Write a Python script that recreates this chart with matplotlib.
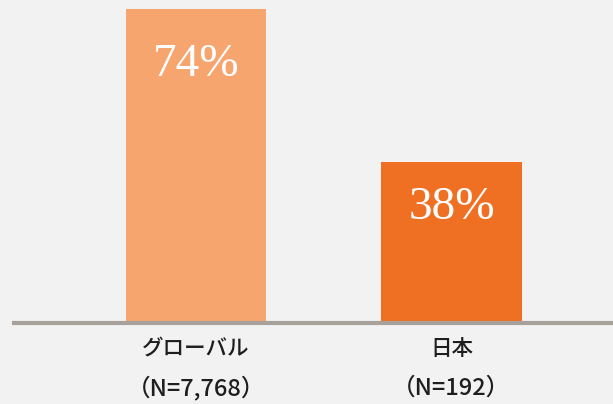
import matplotlib
matplotlib.use("Agg")
import matplotlib.pyplot as plt
from matplotlib.transforms import blended_transform_factory

categories = ["グローバル", "日本"]
sample_sizes = ["（N=7,768）", "（N=192）"]
values = [74, 38]
value_labels = ["74%", "38%"]
colors = ["#f6a56f", "#f07023"]

plt.rcParams['font.family'] = ['Noto Sans CJK JP', 'DejaVu Sans']

fig = plt.figure(figsize=(6.13, 4.04), dpi=100, facecolor="#f2f2f2")
ax = fig.add_axes([14/613, 81/404, 599/613, 323/404])
ax.set_facecolor("#f2f2f2")

x = list(range(len(categories)))
bars = ax.bar(x, values, width=0.55, color=colors, zorder=2)

ax.set_xlim(-0.712, 1.632)
ax.set_ylim(0, 76.2)

label_offsets = [-55, -46]  # px below bar top
for xi, v, lab, off in zip(x, values, value_labels, label_offsets):
    ax.annotate(lab, xy=(xi, v), xytext=(0, off * 72 / 100), textcoords="offset points",
                ha="center", va="center", color="white", fontsize=34,
                family=["Liberation Serif", "DejaVu Serif"], zorder=3)

for s in ["top", "right", "left"]:
    ax.spines[s].set_visible(False)
ax.spines["bottom"].set_color("#a8a19b")
ax.spines["bottom"].set_linewidth(3.0)
ax.set_yticks([])
ax.set_xticks(x)
ax.set_xticklabels([])
ax.tick_params(axis="x", length=0)

trans = blended_transform_factory(ax.transData, fig.transFigure)
for xi, c, n in zip(x, categories, sample_sizes):
    fig.text(xi, 1 - 349/404, c, transform=trans, ha="center", va="center",
             fontsize=15.5, color="#1e1e1e", fontweight="medium")
    fig.text(xi, 1 - 388/404, n, transform=trans, ha="center", va="center",
             fontsize=17, color="#1e1e1e", fontweight="medium")

fig.savefig("out.png", dpi=100, facecolor=fig.get_facecolor())
